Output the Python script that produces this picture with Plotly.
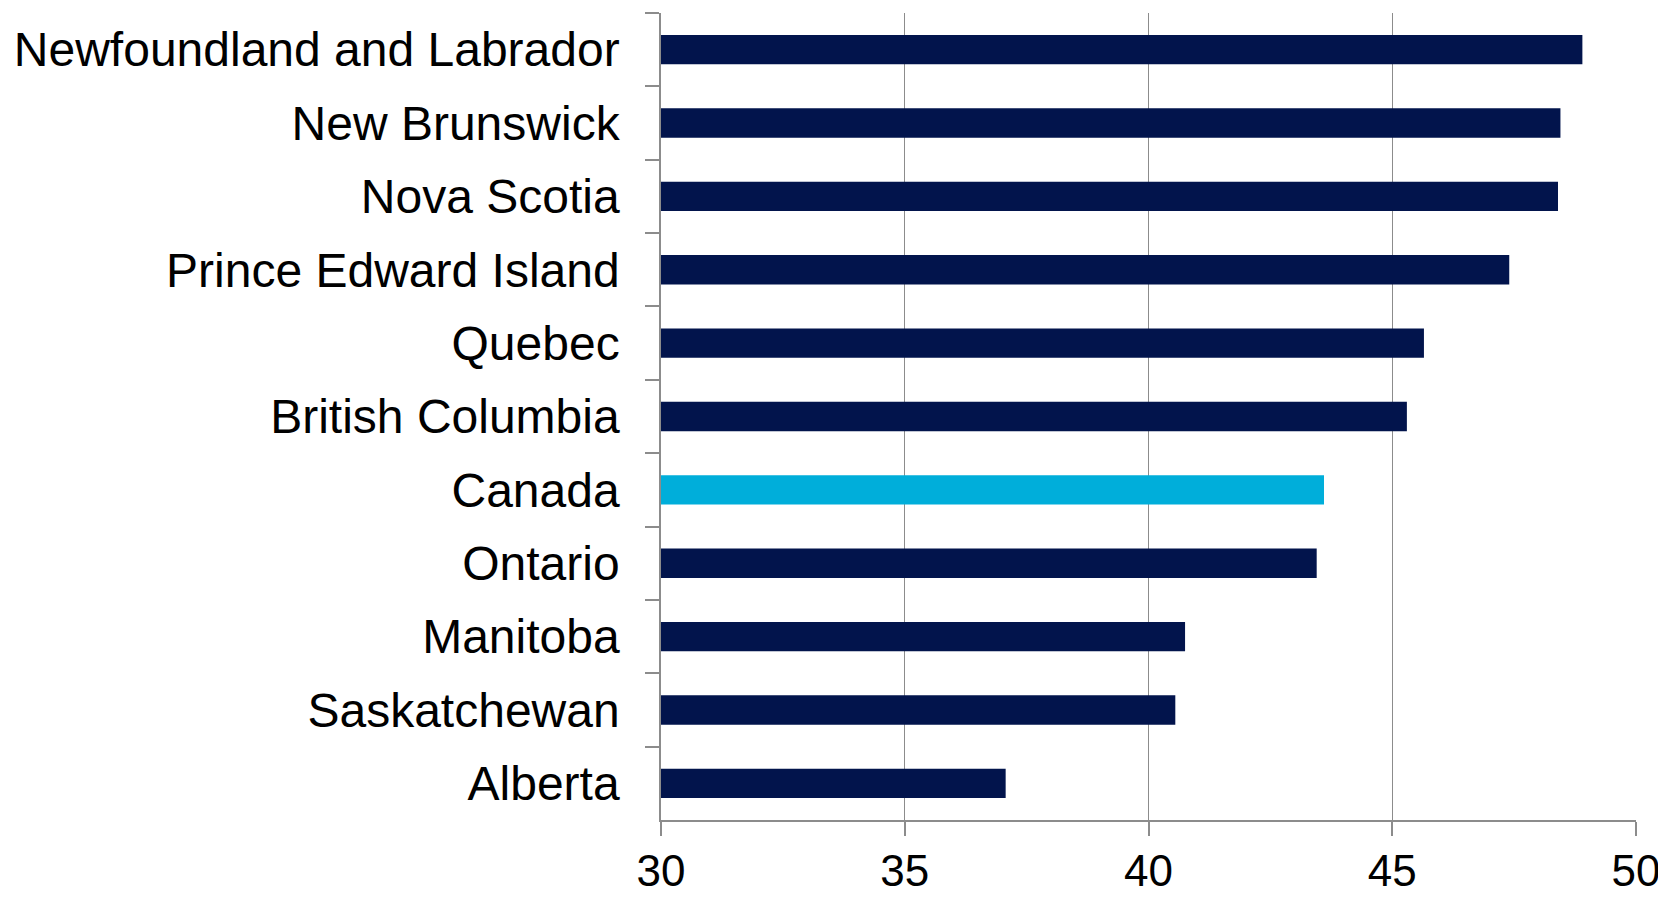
import plotly.graph_objects as go

provinces = [
    "Newfoundland and Labrador", "New Brunswick", "Nova Scotia",
    "Prince Edward Island", "Quebec", "British Columbia", "Canada",
    "Ontario", "Manitoba", "Saskatchewan", "Alberta",
]
values = [48.9, 48.45, 48.4, 47.4, 45.65, 45.3, 43.6, 43.45, 40.75, 40.55, 37.07]
colors = ["#00AEDA" if p == "Canada" else "#02144C" for p in provinces]

x_ticks = [30, 35, 40, 45, 50]

fig = go.Figure(go.Bar(
    y=provinces, x=values, orientation="h",
    marker=dict(color=colors, line=dict(width=0)),
))

# page body has an 8px default margin; size figure to fill the rest of the window
fig.update_layout(
    width=1658, height=889,
    margin=dict(l=653, r=30, t=5, b=77, autoexpand=False),
    paper_bgcolor="white", plot_bgcolor="white",
    bargap=0.6, showlegend=False,
    font=dict(family="Liberation Sans, Arial, sans-serif", color="black"),
)
fig.update_xaxes(
    range=[30, 50], tickvals=x_ticks, ticktext=[str(v) for v in x_ticks],
    showgrid=True, gridcolor="#8C8C8C", gridwidth=1.2,
    showline=True, linecolor="#8C8C8C", linewidth=1.5,
    ticks="outside", ticklen=14, tickcolor="#8C8C8C", tickwidth=1.5,
    tickfont=dict(size=44), ticklabelstandoff=-3, zeroline=False,
    automargin=False,
)
fig.update_yaxes(
    autorange="reversed", showgrid=False,
    showline=True, linecolor="#8C8C8C", linewidth=1.5,
    ticks="outside", ticklen=14, tickcolor="#8C8C8C", tickwidth=1.5,
    tickson="boundaries",
    tickfont=dict(size=48),
    ticklabelstandoff=30, automargin=False,
)

fig.write_html("out.html")
